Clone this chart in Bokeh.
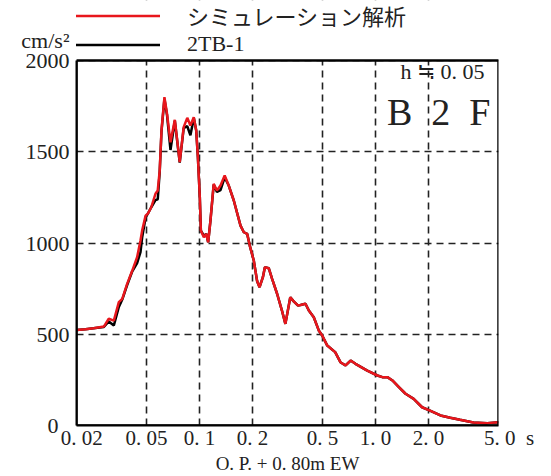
from bokeh.plotting import figure
from bokeh.models import Range1d, FixedTicker, Legend, LegendItem, Label, BoxAnnotation
from bokeh.embed import file_html
from bokeh.resources import INLINE

# Period (s)
period = [0.020, 0.0225, 0.025, 0.0286, 0.0305, 0.0326, 0.0348, 0.0364, 0.0388, 0.0415,
          0.0442, 0.0462, 0.0472, 0.0494, 0.0508, 0.0532, 0.0562, 0.0579, 0.0594, 0.0608,
          0.0632, 0.0654, 0.0684, 0.0724, 0.0772, 0.0813, 0.0852, 0.0888, 0.0928, 0.0958,
          0.0979, 0.1004, 0.1018, 0.1058, 0.1092, 0.112, 0.1154, 0.1204, 0.1256, 0.1316,
          0.139, 0.1466, 0.1566, 0.171, 0.1786, 0.1866, 0.193, 0.2034, 0.2126, 0.2194,
          0.2292, 0.2352, 0.2474, 0.2586, 0.276, 0.294, 0.3076, 0.328, 0.343, 0.362,
          0.375, 0.400, 0.418, 0.446, 0.476, 0.498, 0.532, 0.59, 0.632, 0.676,
          0.722, 0.77, 0.898, 1.026, 1.094, 1.168, 1.248, 1.358, 1.482, 1.648,
          1.84, 2.04, 2.34, 2.66, 3.02, 3.6, 4.32, 5.0]

# シミュレーション解析 (cm/s2)
sim = [524, 528, 533, 542, 585, 575, 676, 694, 776, 849,
       922, 1014, 1068, 1150, 1160, 1196, 1270, 1288, 1397, 1616,
       1799, 1708, 1552, 1675, 1443, 1635, 1686, 1644, 1689, 1616,
       1470, 1251, 1068, 1032, 1050, 1004, 1123, 1324, 1288, 1315,
       1370, 1315, 1233, 1095, 1059, 1050, 986, 904, 790, 758,
       813, 867, 862, 804, 722, 630, 557, 703, 680, 658,
       660, 667, 630, 593, 521, 493, 438, 402, 347, 329,
       356, 338, 301, 274, 265, 265, 247, 210, 174, 146,
       100, 82, 55, 42, 31, 16, 13, 18]

# 2TB-1 (cm/s2)
obs = [524, 528, 533, 540, 570, 548, 650, 690, 770, 845,
       890, 950, 1030, 1140, 1160, 1196, 1235, 1240, 1390, 1610,
       1790, 1700, 1510, 1670, 1440, 1630, 1640, 1590, 1685, 1616,
       1470, 1251, 1068, 1040, 1050, 1004, 1123, 1320, 1280, 1290,
       1360, 1315, 1233, 1095, 1059, 1050, 986, 904, 790, 758,
       813, 867, 862, 804, 722, 630, 557, 703, 680, 658,
       660, 667, 630, 593, 521, 493, 438, 402, 347, 329,
       356, 338, 301, 274, 265, 265, 247, 210, 174, 146,
       100, 82, 55, 42, 31, 16, 13, 18]

x_ticks = [0.02, 0.05, 0.1, 0.2, 0.5, 1.0, 2.0, 5.0]
x_tick_labels = ["\u20020. 02", "0. 05", "0. 1", "0. 2", "0. 5", "1. 0", "2. 0", "\u20035. 0\u2002s"]
y_ticks = [0, 500, 1000, 1500, 2000]
y_tick_labels = ["0\u2002", "500", "1000", "1500", "cm/s\u00b2\n2000\n"]

X_MIN, X_MAX = 0.02, 5.0
Y_MIN, Y_MAX = 0, 2000
Y_VIEW_TOP = 2329  # room above the chart for the legend

SERIF = "Liberation Serif"
RED = "#e8161c"

p = figure(width=550, height=476, x_axis_type="log", title=None,
           x_range=Range1d(X_MIN, X_MAX), y_range=Range1d(Y_MIN, Y_VIEW_TOP),
           output_backend="svg", toolbar_location=None,
           min_border_left=76, min_border_right=52, min_border_top=0, min_border_bottom=51)

p.background_fill_color = "white"
p.border_fill_color = "white"
p.outline_line_color = None

# axes
p.xaxis.ticker = FixedTicker(ticks=x_ticks, minor_ticks=[])
p.xaxis.major_label_overrides = {t: l for t, l in zip(x_ticks, x_tick_labels)}
p.yaxis.ticker = FixedTicker(ticks=y_ticks, minor_ticks=[])
p.yaxis.major_label_overrides = {t: l for t, l in zip(y_ticks, y_tick_labels)}
p.yaxis.bounds = (Y_MIN, Y_MAX)
for ax in (p.xaxis, p.yaxis):
    ax.major_tick_line_color = None
    ax.minor_tick_line_color = None
    ax.major_tick_out = 0
    ax.major_tick_in = 0
    ax.minor_tick_out = 0
    ax.minor_tick_in = 0
    ax.axis_line_color = "black"
    ax.axis_line_width = 2
    ax.major_label_text_font = SERIF
    ax.major_label_text_color = "#222222"
p.xaxis.major_label_text_font_size = "21px"
p.xaxis.major_label_standoff = 0
p.yaxis.major_label_text_font_size = "22px"
p.yaxis.major_label_text_line_height = 0.8
p.yaxis.major_label_standoff = 7

p.xaxis.axis_label = "O. P. + 0. 80m EW"
p.xaxis.axis_label_text_font = SERIF
p.xaxis.axis_label_text_font_style = "normal"
p.xaxis.axis_label_text_font_size = "19px"
p.xaxis.axis_label_text_color = "#222222"
p.xaxis.axis_label_standoff = 0

for g in (p.xgrid, p.ygrid):
    g.grid_line_color = "#222222"
    g.grid_line_dash = "7 5"
    g.grid_line_width = 1.6

r_obs = p.line(period, obs, line_color="black", line_width=2.5)
r_sim = p.line(period, sim, line_color=RED, line_width=2.5)

# blank band above the chart box (legend area), then the chart box outline
p.add_layout(BoxAnnotation(bottom=Y_MAX, fill_color="white", fill_alpha=1.0, line_color=None))
p.add_layout(BoxAnnotation(left=X_MIN, right=X_MAX, bottom=Y_MIN, top=Y_MAX,
                           fill_alpha=0, line_color="black", line_width=2.5, line_alpha=1.0))

legend = Legend(items=[LegendItem(label="シミュレーション解析", renderers=[r_sim]),
                       LegendItem(label="2TB-1", renderers=[r_obs])],
                location=(-3, 368), orientation="vertical",
                glyph_width=87, glyph_height=23, label_height=23, label_standoff=27,
                spacing=0, padding=0, margin=0,
                border_line_color=None, background_fill_alpha=0,
                label_text_font="Liberation Serif, Noto Sans CJK JP",
                label_text_font_size="22px", label_text_line_height=0.8,
                label_text_color="#222222")
p.add_layout(legend)

def lab(x, y, text, size, align="left", font=SERIF):
    p.add_layout(Label(x=x, y=y, text=text, text_font=font, text_font_size=size,
                       text_align=align, text_baseline="middle", text_color="#222222"))

lab(4.16, 1942, "h \u2252 0. 05", "22px", align="right")
lab(4.5, 1720, "B\u20022\u2002F", "38px", align="right")

open("out.html", "w").write(file_html(p, INLINE))
